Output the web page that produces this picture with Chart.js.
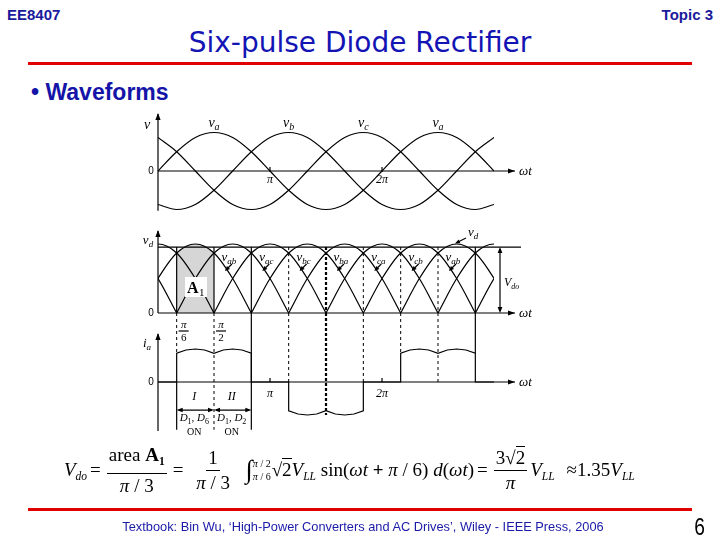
<!DOCTYPE html>
<html>
<head>
<meta charset="utf-8">
<script src="https://cdn.jsdelivr.net/npm/chart.js@4.4.1/dist/chart.umd.min.js"></script>
<style>
  html, body { margin: 0; padding: 0; background: #fff; }
  body { width: 720px; height: 540px; position: relative; overflow: hidden; font-family: "Liberation Sans", Arial, sans-serif; }
  #wave { position: absolute; left: 0; top: 0; }
  .abs { position: absolute; white-space: nowrap; }
  #course { left: 7px; top: 6px; font-weight: bold; font-size: 15px; color: #1a1a9c; }
  #topic { right: 7px; top: 6px; font-weight: bold; font-size: 15px; color: #1a1a9c; }
  #title { left: 0; width: 720px; top: 26px; text-align: center; font-family: "DejaVu Sans", sans-serif; font-size: 28px; color: #1414b4; }
  .rule { position: absolute; left: 28px; width: 664px; height: 3px; background: #e00000; }
  #bullet { left: 31px; top: 79px; font-weight: bold; font-size: 23px; color: #1414a8; }
  #foot { left: 0; width: 726px; top: 519px; text-align: center; font-size: 12.8px; color: #1a1aa8; }
  #page { left: 693px; top: 513px; font-size: 24px; color: #000; transform: scaleX(0.8); }
  #formula { left: 64px; top: 446px; height: 48px; display: flex; align-items: center;
             font-family: "Liberation Serif", serif; font-size: 19px; color: #000; }
  #formula sub { font-size: 11.5px; vertical-align: -4px; }
  .frac { display: inline-flex; flex-direction: column; align-items: center; margin: 0 3px; }
  .frac .num { border-bottom: 1px solid #000; padding: 0 2px 1px; line-height: 22px; }
  .frac .den { line-height: 23px; padding: 0 2px; }
  .op { margin: 0 3px; }
  .intg { font-size: 26px; margin-left: 6px; }
  .lims { display: inline-flex; flex-direction: column; font-size: 10px; line-height: 13px; margin-right: 1px; }
  .sq span { border-top: 1px solid #000; }
</style>
</head>
<body>
<div class="abs" id="course">EE8407</div>
<div class="abs" id="topic">Topic 3</div>
<div class="abs" id="title">Six-pulse Diode Rectifier</div>
<div class="rule" style="top:62px"></div>
<div class="abs" id="bullet">• Waveforms</div>

<canvas id="wave" width="720" height="540"></canvas>

<div class="abs" id="formula">
  <span><i>V</i><sub><i>do</i></sub></span>
  <span class="op">=</span>
  <span class="frac"><span class="num">area <b>A<sub>1</sub></b></span><span class="den"><i>π</i> / 3</span></span>
  <span class="op">=</span>
  <span class="frac"><span class="num">1</span><span class="den">&nbsp;<i>π</i> / 3&nbsp;</span></span>
  <span class="intg">∫</span><span class="lims"><span><i>π</i> / 2</span><span><i>π</i> / 6</span></span>
  <span><span class="sq">√<span>2</span></span><i>V</i><sub><i>LL</i></sub>&nbsp;sin(<i>ωt</i> <b>+</b> <i>π</i> / 6)&nbsp;<i>d</i>(<i>ωt</i>)</span>
  <span class="op">=</span>
  <span class="frac"><span class="num">3<span class="sq">√<span>2</span></span></span><span class="den"><i>π</i></span></span>
  <span><i>V</i><sub><i>LL</i></sub></span>
  <span class="op" style="margin-left:12px">≈1.35<i>V</i><sub><i>LL</i></sub></span>
</div>

<div class="rule" style="top:508px"></div>
<div class="abs" id="foot">Textbook: Bin Wu, ‘High-Power Converters and AC Drives’, Wiley - IEEE Press, 2006</div>
<div class="abs" id="page">6</div>

<script>
// angle in degrees, 30 degree steps over three half-cycles (0 .. 3*pi)
const angles = [0, 30, 60, 90, 120, 150, 180, 210, 240, 270, 300, 330, 360, 390, 420, 450, 480, 510, 540];
const va = [0, 0.5, 0.87, 1, 0.87, 0.5, 0, -0.5, -0.87, -1, -0.87, -0.5, 0, 0.5, 0.87, 1, 0.87, 0.5, 0];
const vb = [-0.87, -1, -0.87, -0.5, 0, 0.5, 0.87, 1, 0.87, 0.5, 0, -0.5, -0.87, -1, -0.87, -0.5, 0, 0.5, 0.87];
const vc = [0.87, 0.5, 0, -0.5, -0.87, -1, -0.87, -0.5, 0, 0.5, 0.87, 1, 0.87, 0.5, 0, -0.5, -0.87, -1, -0.87];

// line-to-line arches of vd: one half-cycle sampled every 30 degrees, and where each arch starts
const archSteps = [0, 30, 60, 90, 120, 150, 180];
const archShape = [0, 0.5, 0.87, 1, 0.87, 0.5, 0];
const archStart = [-150, -90, -30, 30, 90, 150, 210, 270, 330, 390, 450, 510];
const vdo = 0.955;

// shaded area A1 (pi/6 .. pi/2)
const areaDeg = [30, 45, 60, 75, 90];
const areaVal = [0.87, 0.97, 1, 0.97, 0.87];

// phase current ia
const iaDeg = [0, 30, 30, 45, 60, 75, 90, 105, 120, 135, 150, 150, 210, 210, 225, 240, 255, 270, 285, 300, 315, 330, 330,
               390, 390, 405, 420, 435, 450, 465, 480, 495, 510, 510, 540];
const iaVal = [0, 0, 0.87, 0.97, 1, 0.97, 0.87, 0.97, 1, 0.97, 0.87, 0, 0, -0.87, -0.97, -1, -0.97, -0.87, -0.97, -1, -0.97, -0.87, 0,
               0, 0.87, 0.97, 1, 0.97, 0.87, 0.97, 1, 0.97, 0.87, 0, 0];

const tickDeg = [180, 360];
const tickLabels = ['π', '2π'];
const phaseLabels = ['a', 'b', 'c', 'a'];
const phaseDeg = [90, 210, 330, 450];
const lineLabels = ['ab', 'ac', 'bc', 'ba', 'ca', 'cb', 'ab'];
const lineLabelDeg = [114, 174, 234, 294, 354, 414, 474];

// chart area in page pixels
const TOP = 105, BOTTOM = 440;
function band(zeroPx, unitPx) {
  return { min: -(BOTTOM - zeroPx) / unitPx, max: (zeroPx - TOP) / unitPx };
}
const b1 = band(171, 38.5), b2 = band(313, 69), b3 = band(382, 33);

const pts = (xs, ys) => xs.map((d, i) => ({ x: d, y: ys[i] }));
const curve = { borderColor: '#000', borderWidth: 1.2, pointRadius: 0, fill: false };

const datasets = [];
[va, vb, vc].forEach(v => datasets.push({ ...curve, data: pts(angles, v), yAxisID: 'y1', cubicInterpolationMode: 'monotone' }));
archStart.forEach(s => datasets.push({ ...curve, data: pts(archSteps.map(d => d + s), archShape), yAxisID: 'y2', cubicInterpolationMode: 'monotone' }));
datasets.push({ data: pts(areaDeg, areaVal), yAxisID: 'y2', borderWidth: 0, pointRadius: 0, fill: 'origin',
                backgroundColor: '#d6d6d6', tension: 0.4, order: 5 });
datasets.push({ ...curve, data: pts(iaDeg, iaVal), yAxisID: 'y3', tension: 0 });

const serif = '"Liberation Serif", "Times New Roman", serif';

function head(ctx, x, y, ang, L = 7, W = 2.6) {
  const c = Math.cos(ang), s = Math.sin(ang);
  ctx.beginPath();
  ctx.moveTo(x, y);
  ctx.lineTo(x - L * c + W * s, y - L * s - W * c);
  ctx.lineTo(x - L * c - W * s, y - L * s + W * c);
  ctx.closePath();
  ctx.fill();
}
function seg(ctx, x1, y1, x2, y2, style) {
  ctx.save();
  if (style === 'dash') { ctx.setLineDash([3, 3]); ctx.lineWidth = 1; }
  else if (style === 'thick') { ctx.setLineDash([3, 2]); ctx.lineWidth = 2.2; }
  else { ctx.lineWidth = 1.2; }
  ctx.beginPath(); ctx.moveTo(x1, y1); ctx.lineTo(x2, y2); ctx.stroke();
  ctx.restore();
}
function label(ctx, main, sub, x, y, size, align) {
  ctx.font = `italic ${size}px ${serif}`;
  const w1 = ctx.measureText(main).width;
  const ss = Math.round(size * 0.68);
  ctx.font = `italic ${ss}px ${serif}`;
  const w2 = sub ? ctx.measureText(sub).width : 0;
  let sx = x;
  if (align === 'center') sx = x - (w1 + w2) / 2;
  if (align === 'right') sx = x - w1 - w2;
  ctx.textAlign = 'left'; ctx.textBaseline = 'alphabetic';
  ctx.font = `italic ${size}px ${serif}`;
  ctx.fillText(main, sx, y);
  if (sub) { ctx.font = `italic ${ss}px ${serif}`; ctx.fillText(sub, sx + w1, y + size * 0.22); }
}
function plain(ctx, txt, x, y, font) {
  ctx.font = font; ctx.textAlign = 'center'; ctx.textBaseline = 'middle';
  ctx.fillText(txt, x, y);
}

const notes = {
  id: 'notes',
  afterDatasetsDraw(chart) {
    const { ctx } = chart;
    const { x, y1, y2, y3 } = chart.scales;
    const px = d => x.getPixelForValue(d);
    const x0 = px(0), xEnd = 515;
    const z1 = y1.getPixelForValue(0), z2 = y2.getPixelForValue(0), z3 = y3.getPixelForValue(0);
    ctx.save();
    ctx.strokeStyle = '#000'; ctx.fillStyle = '#000'; ctx.lineWidth = 1.2;

    // ---- plot 1: phase voltages
    seg(ctx, x0, y1.getPixelForValue(-1.03), x0, 114);
    head(ctx, x0, 113, -Math.PI / 2);
    seg(ctx, x0, z1, xEnd, z1);
    head(ctx, xEnd, z1, 0);
    tickDeg.forEach((d, i) => {
      seg(ctx, px(d), z1 - 4, px(d), z1 + 1);
      label(ctx, tickLabels[i], '', px(d), z1 + 12, 12, 'center');
    });
    label(ctx, 'v', '', 147, 129, 14, 'center');
    plain(ctx, '0', 151, z1, '10px "Liberation Sans"');
    label(ctx, 'ωt', '', 519, z1 + 4, 13, 'left');
    phaseDeg.forEach((d, i) => label(ctx, 'v', phaseLabels[i], px(d), 127, 14, 'center'));

    // ---- plot 2: dc voltage
    const yVdo = y2.getPixelForValue(vdo);
    seg(ctx, x0, z2, x0, 231);
    head(ctx, x0, 230, -Math.PI / 2);
    seg(ctx, x0, z2, xEnd, z2);
    head(ctx, xEnd, z2, 0);
    seg(ctx, x0, yVdo, 521, yVdo);
    label(ctx, 'v', 'd', 148, 244, 13, 'center');
    plain(ctx, '0', 151, z2, '10px "Liberation Sans"');
    label(ctx, 'ωt', '', 519, z2 + 4, 13, 'left');
    // Vdo dimension
    seg(ctx, 500, yVdo + 2, 500, z2 - 2);
    head(ctx, 500, yVdo, -Math.PI / 2, 6, 2.4);
    head(ctx, 500, z2, Math.PI / 2, 6, 2.4);
    label(ctx, 'V', 'do', 504, 286, 12, 'left');
    // line voltage labels with pointers
    lineLabelDeg.forEach((d, i) => {
      const lx = px(d);
      label(ctx, 'v', lineLabels[i], lx, 261, 13, 'center');
      seg(ctx, lx + 3, 264, lx - 3, 270);
      head(ctx, lx - 4, 271, Math.PI * 0.75, 5, 2.2);
    });
    // vd pointer
    seg(ctx, 466, 238, 458, 242);
    head(ctx, 455, 243.5, Math.PI * 0.86, 5, 2.2);
    label(ctx, 'v', 'd', 468, 236, 13, 'left');

    // guide lines between the dc voltage and the current
    const guides = [
      [30, 'solid', [[z2, 0.87, 'dash'], [0, -1.45, 'solid']]],
      [90, 'solid', [[z2, -1.45, 'dash']]],
      [150, 'solid', [[z2, -1.45, 'solid']]],
      [210, 'dash', [[z2, 0, 'dash']]],
      [270, 'thick', [[z2, -1.0, 'thick']]],
      [330, 'dash', [[z2, 0, 'dash']]],
      [390, 'dash', [[z2, 0.87, 'dash']]],
      [450, 'dash', [[z2, 0, 'dash']]],
      [510, 'solid', [[z2, 0.87, 'solid']]]
    ];
    guides.forEach(([d, st, parts]) => {
      const gx = px(d);
      seg(ctx, gx, yVdo, gx, z2, st);
      parts.forEach(([a, b, s]) => {
        const ya = a === z2 ? z2 : y3.getPixelForValue(a);
        seg(ctx, gx, ya, gx, y3.getPixelForValue(b), s);
      });
    });

    // A1 label
    ctx.fillStyle = '#fff';
    ctx.fillRect(185, 277, 22, 20);
    ctx.fillStyle = '#000';
    ctx.font = `bold 16px ${serif}`; ctx.textAlign = 'left'; ctx.textBaseline = 'alphabetic';
    ctx.fillText('A', 187, 293);
    ctx.font = `11px ${serif}`;
    ctx.fillText('1', 199, 296);

    // pi/6 and pi/2 fractions
    [[30, '6'], [90, '2']].forEach(([d, n]) => {
      const fx = px(d) + 7;
      label(ctx, 'π', '', fx, 328, 11, 'center');
      seg(ctx, fx - 5, 331, fx + 5, 331);
      plain(ctx, n, fx, 338, `11px ${serif}`);
    });

    // ---- plot 3: phase current
    seg(ctx, x0, 431, x0, 334);
    head(ctx, x0, 333, -Math.PI / 2);
    seg(ctx, x0, z3, xEnd, z3);
    head(ctx, xEnd, z3, 0);
    tickDeg.forEach((d, i) => {
      seg(ctx, px(d), z3 - 4, px(d), z3);
      label(ctx, tickLabels[i], '', px(d), z3 + 15, 12, 'center');
    });
    label(ctx, 'i', 'a', 147, 347, 13, 'center');
    plain(ctx, '0', 151, z3, '10px "Liberation Sans"');
    label(ctx, 'ωt', '', 519, z3 + 4, 13, 'left');

    // conduction intervals
    const yd = y3.getPixelForValue(-0.85);
    [[30, 90, 'I', '6'], [90, 150, 'II', '2']].forEach(([a, b, name, n]) => {
      const xa = px(a), xb = px(b), xm = (xa + xb) / 2 - 1;
      seg(ctx, xa + 2, yd, xb - 2, yd);
      head(ctx, xa, yd, Math.PI, 6, 2.2);
      head(ctx, xb, yd, 0, 6, 2.2);
      label(ctx, name, '', xm, 400, 12, 'center');
      ctx.font = `italic 11px ${serif}`;
      const wD = ctx.measureText('D').width;
      const wCs = ctx.measureText(', ').width;
      ctx.font = `8px ${serif}`;
      const wS = ctx.measureText('1').width;
      let sx = xm - (2 * wD + wCs + 2 * wS) / 2;
      ctx.textAlign = 'left'; ctx.textBaseline = 'alphabetic';
      ctx.font = `italic 11px ${serif}`; ctx.fillText('D', sx, 421);
      ctx.font = `8px ${serif}`; ctx.fillText('1', sx + wD, 424);
      ctx.font = `11px ${serif}`; ctx.fillText(',', sx + wD + wS, 421);
      ctx.font = `italic 11px ${serif}`; ctx.fillText('D', sx + wD + wS + wCs, 421);
      ctx.font = `8px ${serif}`; ctx.fillText(n, sx + 2 * wD + wS + wCs, 424);
      plain(ctx, 'ON', xm, 432, `10px ${serif}`);
    });

    ctx.restore();
  }
};

new Chart(document.getElementById('wave'), {
  type: 'line',
  data: { datasets },
  options: {
    responsive: false,
    animation: false,
    events: [],
    layout: { padding: { left: 158, right: 226, top: TOP, bottom: 540 - BOTTOM } },
    plugins: { legend: { display: false }, tooltip: { enabled: false } },
    scales: {
      x: { type: 'linear', min: 0, max: 540, display: false },
      y1: { type: 'linear', ...b1, display: false },
      y2: { type: 'linear', ...b2, display: false },
      y3: { type: 'linear', ...b3, display: false }
    }
  },
  plugins: [notes]
});
</script>
</body>
</html>
